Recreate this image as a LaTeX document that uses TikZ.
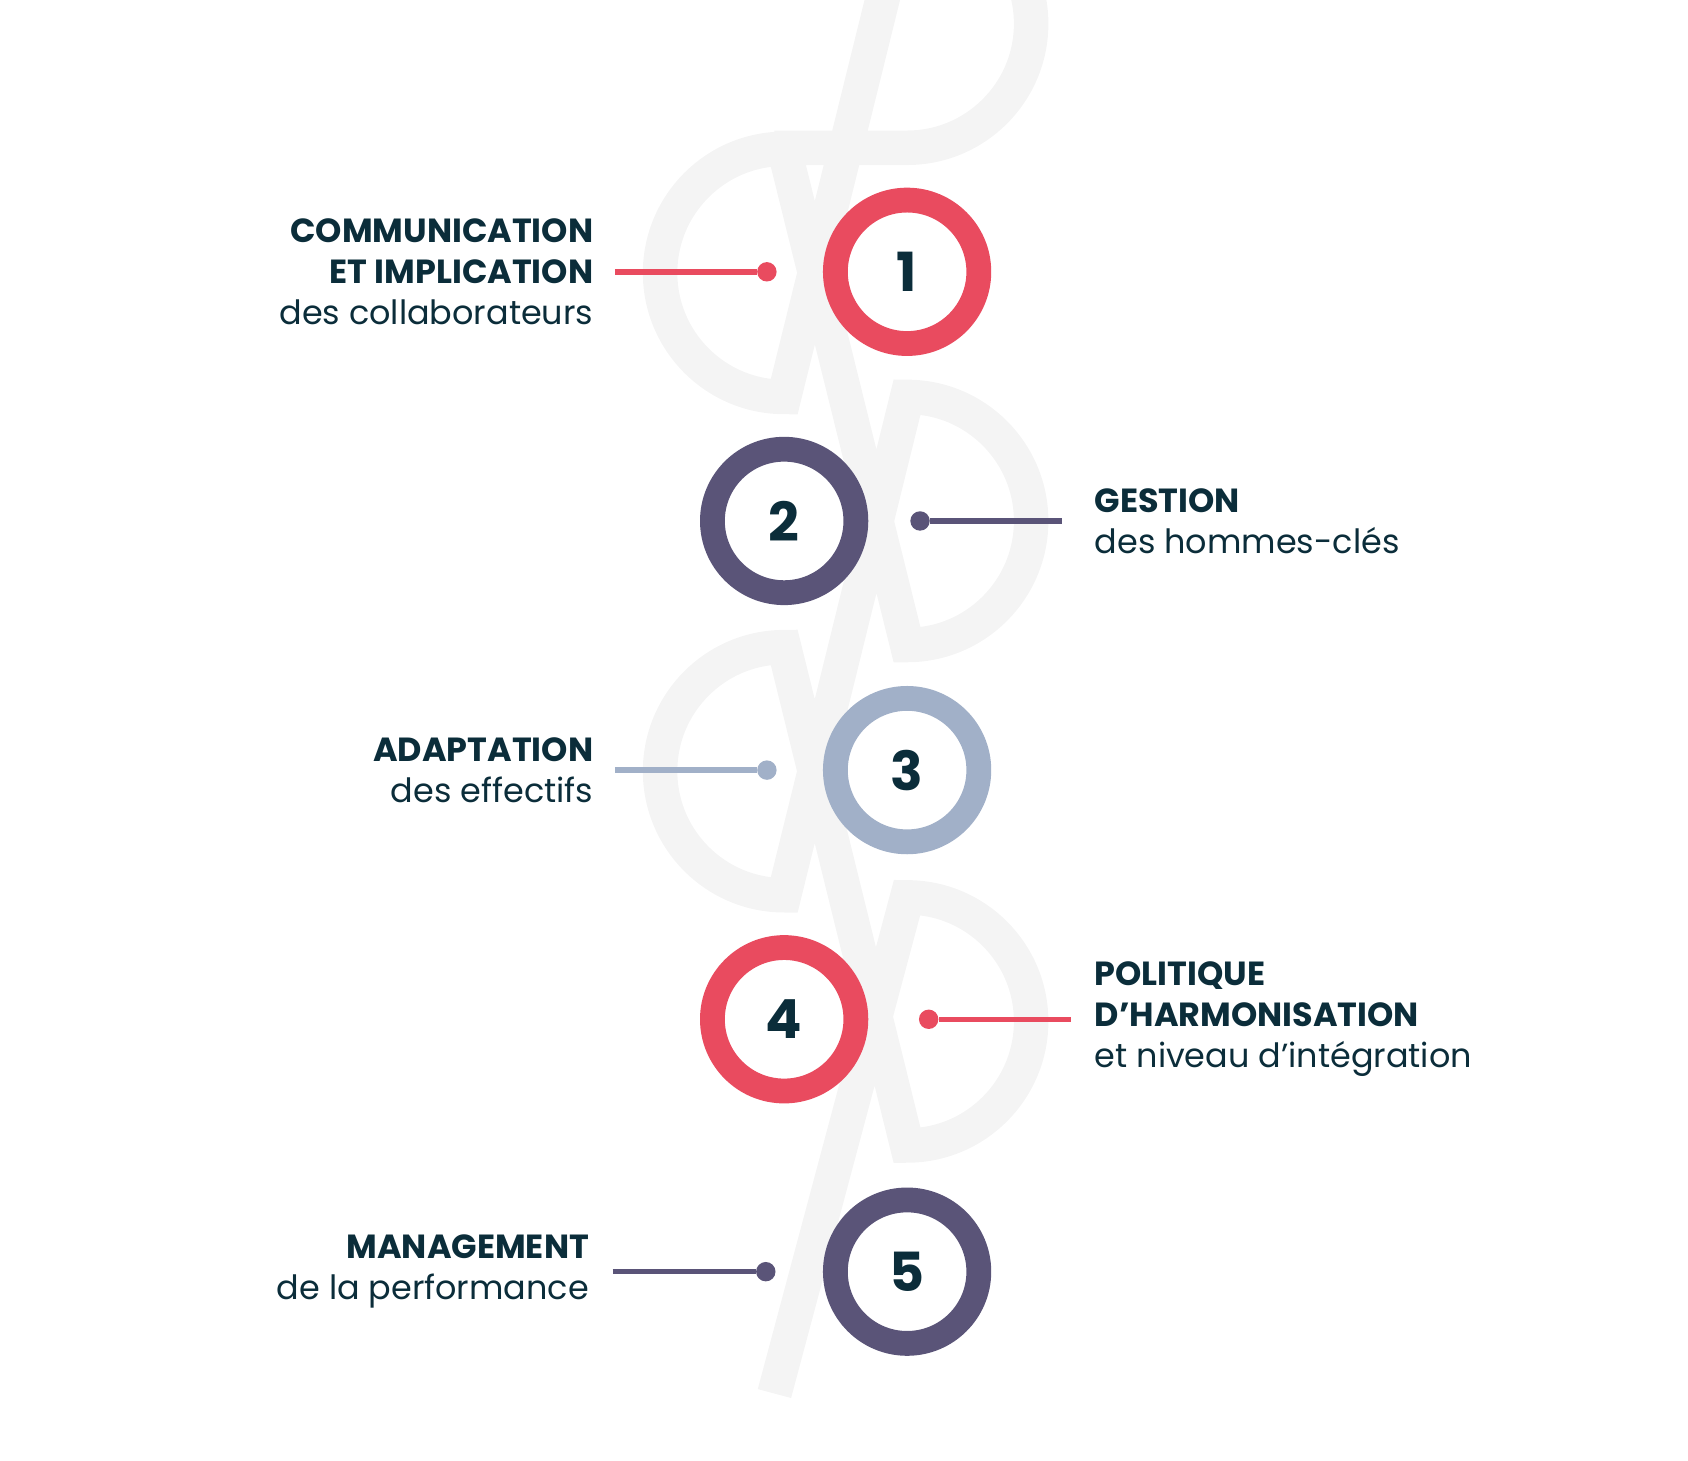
\documentclass[tikz,border=0pt]{standalone}
\usepackage{fontspec}
\setmainfont{Poppins}
\usetikzlibrary{positioning}
\definecolor{trackgray}{HTML}{F4F4F4}
\definecolor{stepred}{HTML}{E94B5F}
\definecolor{steppurple}{HTML}{5A5478}
\definecolor{steplight}{HTML}{A1B0C8}
\definecolor{inkdark}{HTML}{0B2D3A}

\begin{document}
\begin{tikzpicture}[
		x=0.5pt, y=-0.5pt,
		track/.style= {
				trackgray,
				line width=16pt
			},
		ring/.style= {
				draw=#1,
				line width=11.5pt,
				circle,
				minimum size=133pt*0.5,
				inner sep=0pt,
				text=inkdark,
				font=\fontsize{25}{25}\selectfont\bfseries
			},
		dot/.style= {
				fill=#1,
				circle,
				minimum size=9pt,
				inner sep=0pt
			},
		label/.style= {
				text=inkdark,
				inner sep=0pt,
				font=\fontsize{15.5}{19}\selectfont
			},
		link/.style= {
				draw=#1,
				line width=2.5pt
			}
	]

	\useasboundingbox (0,0) rectangle (1565,1354);

	% track
	\draw[track] (718,137) -- (841,137) arc[start angle=90, end angle=-90, radius=115]
		-- (727,368) arc[start angle=90, end angle=270, radius=115]
		-- (841,598) arc[start angle=90, end angle=-90, radius=115]
		-- (727,830) arc[start angle=90, end angle=270, radius=115]
		-- (841,1062) arc[start angle=90, end angle=-90, radius=115]
		-- (718,1292);

	% steps
	\node[ring=stepred] (s1) at (841,252) {1};
	\node[ring=steppurple] (s2) at (727,483) {2};
	\node[ring=steplight] (s3) at (841,714) {3};
	\node[ring=stepred] (s4) at (727,945) {4};
	\node[ring=steppurple] (s5) at (841,1179) {5};

	\node[dot=stepred] (d1) at (711,252) {};
	\node[dot=steppurple] (d2) at (853,483) {};
	\node[dot=steplight] (d3) at (711,714) {};
	\node[dot=stepred] (d4) at (861,945) {};
	\node[dot=steppurple] (d5) at (710,1179) {};

	% labels
	\node[label, align=right, anchor=east, outer xsep=10pt] (t1) at (570,252)
		{\textbf{COMMUNICATION}\\\textbf{ET IMPLICATION}\\des collaborateurs};
	\node[label, align=left, anchor=west, outer xsep=15pt] (t2) at (985,483)
		{\textbf{GESTION}\\des hommes-clés};
	\node[label, align=right, anchor=east, outer xsep=10pt] (t3) at (570,714)
		{\textbf{ADAPTATION}\\des effectifs};
	\node[label, align=left, anchor=west, outer xsep=11pt] (t4) at (993,945)
		{\textbf{POLITIQUE}\\\textbf{D’HARMONISATION}\\et niveau d’intégration};
	\node[label, align=right, anchor=east, outer xsep=11pt] (t5) at (568,1179)
		{\textbf{MANAGEMENT}\\de la performance};

	\draw[link=stepred] (t1) -- (d1);
	\draw[link=steppurple] (d2) -- (t2);
	\draw[link=steplight] (t3) -- (d3);
	\draw[link=stepred] (d4) -- (t4);
	\draw[link=steppurple] (t5) -- (d5);
\end{tikzpicture}
\end{document}
